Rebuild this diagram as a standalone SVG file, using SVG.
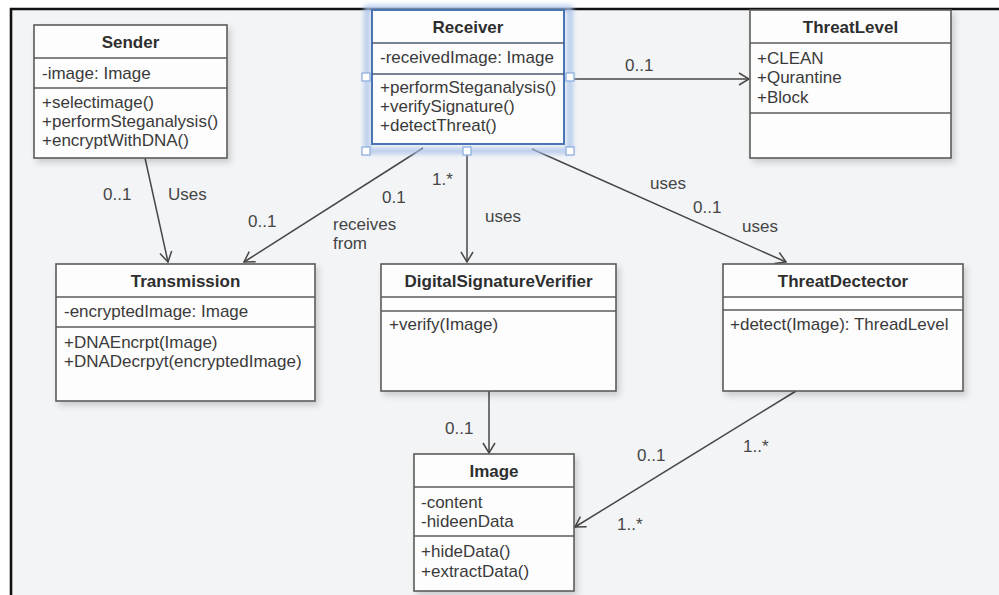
<svg xmlns="http://www.w3.org/2000/svg" width="999" height="595" viewBox="0 0 999 595">
  <style>
    text { font-family: "Liberation Sans", Arial, sans-serif; font-size: 17px; fill: #3a3a3a; }
    .title { font-weight: bold; text-anchor: middle; fill: #2e2e2e; }
    .box { fill: #fdfdfd; stroke: #5a5a5a; stroke-width: 1.6; }
    .div { stroke: #5a5a5a; stroke-width: 1.6; }
    .edge { fill: none; stroke: #474747; stroke-width: 1.5; }
    .lbl { fill: #454545; }
    .handle { fill: #ffffff; stroke: #8fb0dd; stroke-width: 1.3; }
  </style>
  <defs>
    <filter id="shadow" x="-10%" y="-10%" width="130%" height="130%">
      <feDropShadow dx="3" dy="4" stdDeviation="3" flood-color="#000" flood-opacity="0.16"/>
    </filter>
    <filter id="glow" x="-10%" y="-10%" width="120%" height="125%">
      <feGaussianBlur stdDeviation="2.5"/>
    </filter>
    <marker id="open" viewBox="0 0 12 14" refX="11" refY="7" markerWidth="12" markerHeight="14" markerUnits="userSpaceOnUse" orient="auto">
      <path d="M1,1 L11,7 L1,13" fill="none" stroke="#474747" stroke-width="1.5"/>
    </marker>
  </defs>

  <!-- canvas -->
  <rect x="0" y="0" width="999" height="595" fill="#ffffff"/>
  <rect x="11" y="9" width="988" height="586" fill="#f2f4f6"/>
  <path d="M11,595 L11,9 L999,9" fill="none" stroke="#111111" stroke-width="2.6"/>

  <!-- associations -->
  <g id="connectors">
    <path class="edge" d="M145,158 L168,262" marker-end="url(#open)"/>
    <path class="edge" d="M423,148 L244,262" marker-end="url(#open)"/>
    <path class="edge" d="M467,151 L467,262" marker-end="url(#open)"/>
    <path class="edge" d="M532,149 L786,262" marker-end="url(#open)"/>
    <path class="edge" d="M570,79 L749,79" marker-end="url(#open)"/>
    <path class="edge" d="M489,391 L489,453" marker-end="url(#open)"/>
    <path class="edge" d="M796,391 L575,527" marker-end="url(#open)"/>

    <text class="lbl" x="103" y="200">0..1</text>
    <text class="lbl" x="168" y="200">Uses</text>
    <text class="lbl" x="248" y="227">0..1</text>
    <text class="lbl" x="382" y="203">0.1</text>
    <text class="lbl" x="333" y="230">receives</text>
    <text class="lbl" x="333" y="249">from</text>
    <text class="lbl" x="432" y="185">1.*</text>
    <text class="lbl" x="485" y="222">uses</text>
    <text class="lbl" x="650" y="189">uses</text>
    <text class="lbl" x="693" y="213">0..1</text>
    <text class="lbl" x="742" y="232">uses</text>
    <text class="lbl" x="625" y="71">0..1</text>
    <text class="lbl" x="445" y="434">0..1</text>
    <text class="lbl" x="637" y="461">0..1</text>
    <text class="lbl" x="743" y="452">1..*</text>
    <text class="lbl" x="617" y="530">1..*</text>
  </g>

  <g id="sender">
    <rect class="box" x="34" y="25" width="193" height="133" filter="url(#shadow)"/>
    <line class="div" x1="34" y1="58" x2="227" y2="58"/>
    <line class="div" x1="34" y1="88" x2="227" y2="88"/>
    <text class="title" x="130.5" y="48">Sender</text>
    <text x="42" y="79">-image: Image</text>
    <text x="42" y="108">+selectimage()</text>
    <text x="42" y="127">+performSteganalysis()</text>
    <text x="42" y="146">+encryptWithDNA()</text>
  </g>

  <g id="receiver">
    <rect x="367" y="8" width="203" height="143" fill="none" stroke="#a9c3ea" stroke-width="5" filter="url(#glow)"/>
    <rect class="box" x="372" y="10" width="192" height="134" style="stroke:#4a74b4;stroke-width:2"/>
    <line x1="372" y1="43" x2="564" y2="43" stroke="#4a5a70" stroke-width="1.6"/>
    <line x1="372" y1="74" x2="564" y2="74" stroke="#4a5a70" stroke-width="1.6"/>
    <text class="title" x="468" y="33">Receiver</text>
    <text x="380" y="63">-receivedImage: Image</text>
    <text x="380" y="93">+performSteganalysis()</text>
    <text x="380" y="112">+verifySignature()</text>
    <text x="380" y="131">+detectThreat()</text>
    <rect class="handle" x="362" y="73" width="8" height="8"/>
    <rect class="handle" x="566" y="73" width="8" height="8"/>
    <rect class="handle" x="362" y="147" width="8" height="8"/>
    <rect class="handle" x="463" y="147" width="8" height="8"/>
    <rect class="handle" x="566" y="147" width="8" height="8"/>
  </g>

  <g id="threatlevel">
    <rect class="box" x="750" y="10" width="201" height="148" filter="url(#shadow)"/>
    <line class="div" x1="750" y1="43" x2="951" y2="43"/>
    <line class="div" x1="750" y1="113" x2="951" y2="113"/>
    <text class="title" x="850.5" y="33">ThreatLevel</text>
    <text x="757" y="64">+CLEAN</text>
    <text x="757" y="83">+Qurantine</text>
    <text x="757" y="103">+Block</text>
  </g>

  <g id="transmission">
    <rect class="box" x="56" y="264" width="259" height="137" filter="url(#shadow)"/>
    <line class="div" x1="56" y1="297" x2="315" y2="297"/>
    <line class="div" x1="56" y1="327" x2="315" y2="327"/>
    <text class="title" x="185.5" y="287">Transmission</text>
    <text x="64" y="317">-encryptedImage: Image</text>
    <text x="64" y="348">+DNAEncrpt(Image)</text>
    <text x="64" y="367">+DNADecrpyt(encryptedImage)</text>
  </g>

  <g id="digitalsignatureverifier">
    <rect class="box" x="381" y="264" width="235" height="127" filter="url(#shadow)"/>
    <line class="div" x1="381" y1="297" x2="616" y2="297"/>
    <line class="div" x1="381" y1="311" x2="616" y2="311"/>
    <text class="title" x="498.5" y="287">DigitalSignatureVerifier</text>
    <text x="389" y="330">+verify(Image)</text>
  </g>

  <g id="threatdectector">
    <rect class="box" x="723" y="264" width="240" height="127" filter="url(#shadow)"/>
    <line class="div" x1="723" y1="297" x2="963" y2="297"/>
    <line class="div" x1="723" y1="310" x2="963" y2="310"/>
    <text class="title" x="843" y="287">ThreatDectector</text>
    <text x="730" y="330">+detect(Image): ThreadLevel</text>
  </g>

  <g id="image">
    <rect class="box" x="414" y="454" width="160" height="137" filter="url(#shadow)"/>
    <line class="div" x1="414" y1="487" x2="574" y2="487"/>
    <line class="div" x1="414" y1="536" x2="574" y2="536"/>
    <text class="title" x="494" y="477">Image</text>
    <text x="421" y="508">-content</text>
    <text x="421" y="527">-hideenData</text>
    <text x="421" y="557">+hideData()</text>
    <text x="421" y="577">+extractData()</text>
  </g>
</svg>
